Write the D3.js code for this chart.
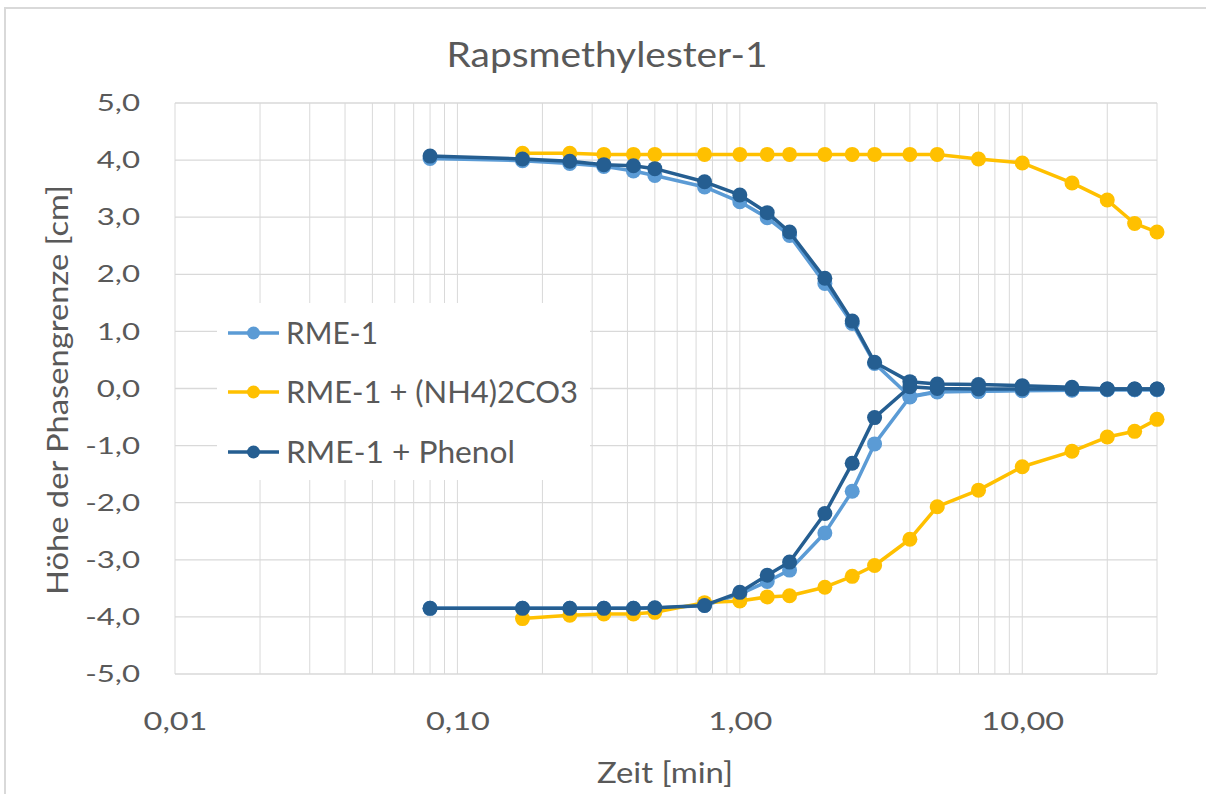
<!DOCTYPE html>
<html>
<head>
<meta charset="utf-8">
<script src="https://cdn.jsdelivr.net/npm/d3@7"></script>
<style>
  html, body { margin: 0; padding: 0; background: #fff; }
  svg text { font-family: Lato, "Open Sans", sans-serif; fill: #595959; }
</style>
</head>
<body>
<svg id="chart" width="1206" height="794"></svg>
<script>
// Measurement times [min]
const timeAll = [0.08, 0.17, 0.25, 0.33, 0.42, 0.5, 0.75, 1, 1.25, 1.5, 2, 2.5, 3, 4, 5, 7, 10, 15, 20, 25, 30];
const timeCarbonate = [0.17, 0.25, 0.33, 0.42, 0.5, 0.75, 1, 1.25, 1.5, 2, 2.5, 3, 4, 5, 7, 10, 15, 20, 25, 30];

// Phase boundary heights [cm]: upper and lower boundary per series
const rmeUpper = [4.03, 3.99, 3.94, 3.89, 3.81, 3.73, 3.53, 3.27, 2.99, 2.68, 1.84, 1.14, 0.44, -0.14, -0.05, -0.05, -0.03, -0.02, -0.02, -0.02, -0.02];
const rmeLower = [-3.85, -3.85, -3.85, -3.85, -3.85, -3.85, -3.80, -3.60, -3.38, -3.18, -2.53, -1.80, -0.97, -0.15, -0.06, -0.05, -0.04, -0.03, -0.02, -0.02, -0.02];
const carbonateUpper = [4.12, 4.12, 4.10, 4.10, 4.10, 4.10, 4.10, 4.10, 4.10, 4.10, 4.10, 4.10, 4.10, 4.10, 4.02, 3.95, 3.60, 3.30, 2.89, 2.74];
const carbonateLower = [-4.03, -3.97, -3.95, -3.95, -3.92, -3.75, -3.72, -3.65, -3.63, -3.48, -3.29, -3.10, -2.64, -2.07, -1.78, -1.37, -1.10, -0.85, -0.75, -0.54];
const phenolUpper = [4.07, 4.02, 3.98, 3.92, 3.90, 3.85, 3.62, 3.39, 3.08, 2.74, 1.93, 1.18, 0.46, 0.12, 0.08, 0.07, 0.05, 0.02, -0.01, -0.01, -0.01];
const phenolLower = [-3.85, -3.85, -3.85, -3.85, -3.85, -3.84, -3.80, -3.57, -3.27, -3.04, -2.19, -1.31, -0.51, 0.03, 0.0, -0.01, -0.01, -0.01, -0.01, -0.01, -0.01];

const seriesNames = ["RME-1", "RME-1 + (NH4)2CO3", "RME-1 + Phenol"];
const seriesColors = ["#5B9BD5", "#FFC000", "#255E91"];

const xTickValues = [0.01, 0.1, 1, 10];
const xTickLabels = ["0,01", "0,10", "1,00", "10,00"];
const yTickValues = [-5, -4, -3, -2, -1, 0, 1, 2, 3, 4, 5];

const series = [
  { name: seriesNames[0], color: seriesColors[0], t: timeAll, upper: rmeUpper, lower: rmeLower },
  { name: seriesNames[1], color: seriesColors[1], t: timeCarbonate, upper: carbonateUpper, lower: carbonateLower },
  { name: seriesNames[2], color: seriesColors[2], t: timeAll, upper: phenolUpper, lower: phenolLower }
];

const svg = d3.select("#chart");
const W = 1206, H = 794;
const plot = { left: 175, right: 1157, top: 103, bottom: 674 };

svg.append("rect").attr("width", W).attr("height", H).attr("fill", "#fff");
svg.append("rect").attr("x", 5).attr("y", 8).attr("width", W + 10).attr("height", H + 10)
  .attr("fill", "none").attr("stroke", "#d9d9d9").attr("stroke-width", 2);

const x = d3.scaleLog().domain([0.01, 30]).range([plot.left, plot.right]);
const y = d3.scaleLinear().domain([-5, 5]).range([plot.bottom, plot.top]);

// horizontal text stretch helper
function stretch(sel, k) {
  sel.each(function () {
    const len = this.getComputedTextLength();
    d3.select(this).attr("textLength", len * k).attr("lengthAdjust", "spacingAndGlyphs");
  });
}
function fitWidth(sel, w) {
  sel.attr("textLength", w).attr("lengthAdjust", "spacingAndGlyphs");
}

// gridlines: every 1..9 step of each decade, plus each whole cm
const minorTicks = [];
for (let e = -2; e <= 1; e++) {
  for (let m = 1; m <= 9; m++) {
    const v = m * Math.pow(10, e);
    if (v <= 30.0001) minorTicks.push(v);
  }
}
const grid = svg.append("g");
grid.selectAll("line.v").data(minorTicks).join("line")
  .attr("x1", d => x(d)).attr("x2", d => x(d))
  .attr("y1", plot.top).attr("y2", plot.bottom)
  .attr("stroke", "#d9d9d9").attr("stroke-width", 1);
grid.selectAll("line.h").data(yTickValues).join("line")
  .attr("x1", plot.left).attr("x2", plot.right)
  .attr("y1", d => y(d)).attr("y2", d => y(d))
  .attr("stroke", "#d9d9d9").attr("stroke-width", 1.3);

// axes
const yAxis = svg.append("g").attr("transform", `translate(${plot.left - 35},0)`)
  .call(d3.axisLeft(y).tickValues(yTickValues).tickSize(0).tickPadding(0)
    .tickFormat(d => d3.format(".1f")(d).replace(".", ",").replace("−", "-")));
yAxis.select(".domain").remove();
yAxis.selectAll("text").attr("font-size", 24).style("font-family", "Lato").attr("fill", "#595959");
stretch(yAxis.selectAll("text"), 1.3);

const xAxis = svg.append("g").attr("transform", `translate(0,${plot.bottom + 38})`)
  .call(d3.axisBottom(x).tickValues(xTickValues).tickSize(0).tickPadding(0)
    .tickFormat((d, i) => xTickLabels[i]));
xAxis.select(".domain").remove();
xAxis.selectAll("text").attr("font-size", 25).attr("dy", "0.71em").style("font-family", "Lato").attr("fill", "#595959");
stretch(xAxis.selectAll("text"), 1.3);

// title and axis titles
fitWidth(svg.append("text").attr("x", 607).attr("y", 67).attr("text-anchor", "middle")
  .attr("font-size", 35).text("Rapsmethylester-1"), 321);
fitWidth(svg.append("text").attr("x", 665).attr("y", 783).attr("text-anchor", "middle")
  .attr("font-size", 28).text("Zeit [min]"), 136);
fitWidth(svg.append("text").attr("transform", "translate(68,390) rotate(-90)").attr("text-anchor", "middle")
  .attr("font-size", 28).text("Höhe der Phasengrenze [cm]"), 410);

// series lines and markers
const line = d3.line().x(d => x(d[0])).y(d => y(d[1]));
const marks = svg.append("g");
series.forEach(s => {
  [s.upper, s.lower].forEach(vals => {
    const pts = s.t.map((t, i) => [t, vals[i]]);
    const g = marks.append("g");
    g.append("path").attr("d", line(pts)).attr("fill", "none")
      .attr("stroke", s.color).attr("stroke-width", 3.5).attr("stroke-linejoin", "round");
    g.selectAll("circle").data(pts).join("circle")
      .attr("cx", d => x(d[0])).attr("cy", d => y(d[1])).attr("r", 7.5)
      .attr("fill", s.color);
  });
});

// legend
const legend = svg.append("g");
legend.append("rect").attr("x", 217).attr("y", 303).attr("width", 373).attr("height", 177).attr("fill", "#fff");
const rowY = [333, 392, 452];
const legendWidths = [92, 292, 229];
series.forEach((s, i) => {
  const r = legend.append("g").attr("transform", `translate(0,${rowY[i]})`);
  r.append("line").attr("x1", 228).attr("x2", 279).attr("stroke", s.color).attr("stroke-width", 3.5);
  r.append("circle").attr("cx", 253.5).attr("r", 6.5).attr("fill", s.color);
  fitWidth(r.append("text").attr("x", 286).attr("dy", "0.36em").attr("font-size", 30).text(s.name), legendWidths[i]);
});
</script>
</body>
</html>
